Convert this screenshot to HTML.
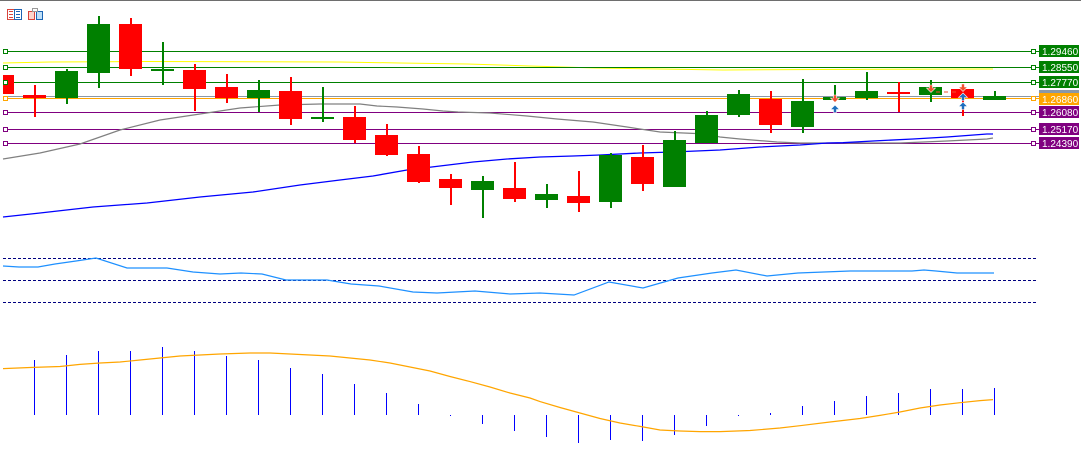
<!DOCTYPE html>
<html><head><meta charset="utf-8"><style>
html,body{margin:0;padding:0;background:#fff;}
svg{display:block;}
text{font-family:"Liberation Sans",sans-serif;font-size:10px;fill:#fff;}
</style></head><body>
<svg width="1081" height="467" viewBox="0 0 1081 467" xmlns="http://www.w3.org/2000/svg" shape-rendering="crispEdges">
<rect x="0" y="0" width="1081" height="467" fill="#fff"/>
<rect x="0" y="0" width="1081" height="1" fill="#6e6e6e"/>
<!-- icons -->
<g>
<rect x="7.5" y="9.5" width="14" height="10" fill="#fff" stroke="#d9443c"/>
<rect x="14.5" y="9.5" width="7" height="10" fill="#fff" stroke="#1c64b4"/>
<rect x="9" y="11" width="4" height="1" fill="#d9443c"/><rect x="9" y="14" width="4" height="1" fill="#d9443c"/><rect x="9" y="17" width="4" height="1" fill="#d9443c"/>
<rect x="16" y="11" width="4" height="1" fill="#1c64b4"/><rect x="16" y="14" width="4" height="1" fill="#1c64b4"/><rect x="16" y="17" width="4" height="1" fill="#1c64b4"/>
<rect x="28.5" y="11.5" width="6" height="8" fill="#fcd4cc" stroke="#d9443c"/>
<rect x="36.5" y="11.5" width="6" height="8" fill="#bfe0f8" stroke="#1c64b4"/>
<rect x="32.5" y="8.5" width="5" height="3" fill="#fff" stroke="#999"/>
</g>
<!-- yellow line -->
<polyline fill="none" stroke="#ffff00" stroke-width="1" points="3,63 50,62 145,61.5 340,62 400,63 467,64 500,65 530,66 563,67 595,68 660,69 723,70 820,69.5 993,69" shape-rendering="auto"/>
<!-- horizontal level lines -->
<g stroke-width="1">
<line x1="3" y1="51.5" x2="1039" y2="51.5" stroke="#008000"/>
<line x1="3" y1="67.5" x2="1039" y2="67.5" stroke="#008000"/>
<line x1="3" y1="82.5" x2="1039" y2="82.5" stroke="#008000"/>
<line x1="3" y1="96.5" x2="1039" y2="96.5" stroke="#8a98a8"/>
<line x1="3" y1="98.5" x2="1039" y2="98.5" stroke="#ffa500"/>
<line x1="3" y1="112.5" x2="1039" y2="112.5" stroke="#800080"/>
<line x1="3" y1="129.5" x2="1039" y2="129.5" stroke="#800080"/>
<line x1="3" y1="143.5" x2="1039" y2="143.5" stroke="#800080"/>
</g>
<!-- moving averages -->
<polyline fill="none" stroke="#808080" stroke-width="1.2" shape-rendering="auto" points="3,159 40,153 80,144 120,130 160,120 200,114 240,108 280,105 320,104 360,104 377,106 397,107 423,109 443,111 458,112 490,113 527,116 557,119 593,122 627,127 660,132 707,134 720,137 740,139 777,142 800,143 900,143 947,141 987,139 993,138"/>
<polyline fill="none" stroke="#0000ff" stroke-width="1.3" shape-rendering="auto" points="3,217 40,213 93,207 147,203 200,197 253,192 300,185 340,180 373,176 407,170 440,166 473,162 507,159 540,157 573,156 600,155 640,153 673,152 720,150 760,147 800,145 827,143 843,142.7 873,141 913,139 947,137 987,134 993,134"/>
<!-- candles -->
<g id="candles">
<rect x="3" y="75" width="11" height="19" fill="#ff0000"/>
<rect x="34" y="85" width="2" height="32" fill="#ff0000"/><rect x="23" y="95" width="23" height="3" fill="#ff0000"/>
<rect x="66" y="69" width="2" height="35" fill="#008000"/><rect x="55" y="71" width="23" height="27" fill="#008000"/>
<rect x="98" y="16" width="2" height="72" fill="#008000"/><rect x="87" y="24" width="23" height="49" fill="#008000"/>
<rect x="130" y="18" width="2" height="58" fill="#ff0000"/><rect x="119" y="24" width="23" height="45" fill="#ff0000"/>
<rect x="162" y="42" width="2" height="43" fill="#008000"/><rect x="151" y="69" width="23" height="2" fill="#008000"/>
<rect x="194" y="64" width="2" height="47" fill="#ff0000"/><rect x="183" y="70" width="23" height="19" fill="#ff0000"/>
<rect x="226" y="74" width="2" height="29" fill="#ff0000"/><rect x="215" y="87" width="23" height="11" fill="#ff0000"/>
<rect x="258" y="80" width="2" height="32" fill="#008000"/><rect x="247" y="90" width="23" height="8" fill="#008000"/>
<rect x="290" y="77" width="2" height="48" fill="#ff0000"/><rect x="279" y="91" width="23" height="28" fill="#ff0000"/>
<rect x="322" y="87" width="2" height="35" fill="#008000"/><rect x="311" y="117" width="23" height="2" fill="#008000"/>
<rect x="354" y="106" width="2" height="37" fill="#ff0000"/><rect x="343" y="117" width="23" height="23" fill="#ff0000"/>
<rect x="386" y="124" width="2" height="32" fill="#ff0000"/><rect x="375" y="135" width="23" height="20" fill="#ff0000"/>
<rect x="418" y="146" width="2" height="37" fill="#ff0000"/><rect x="407" y="154" width="23" height="28" fill="#ff0000"/>
<rect x="450" y="174" width="2" height="31" fill="#ff0000"/><rect x="439" y="179" width="23" height="9" fill="#ff0000"/>
<rect x="482" y="176" width="2" height="42" fill="#008000"/><rect x="471" y="181" width="23" height="9" fill="#008000"/>
<rect x="514" y="162" width="2" height="40" fill="#ff0000"/><rect x="503" y="188" width="23" height="11" fill="#ff0000"/>
<rect x="546" y="184" width="2" height="24" fill="#008000"/><rect x="535" y="194" width="23" height="6" fill="#008000"/>
<rect x="578" y="171" width="2" height="41" fill="#ff0000"/><rect x="567" y="196" width="23" height="7" fill="#ff0000"/>
<rect x="610" y="153" width="2" height="55" fill="#008000"/><rect x="599" y="155" width="23" height="47" fill="#008000"/>
<rect x="642" y="145" width="2" height="46" fill="#ff0000"/><rect x="631" y="157" width="23" height="27" fill="#ff0000"/>
<rect x="674" y="131" width="2" height="56" fill="#008000"/><rect x="663" y="140" width="23" height="47" fill="#008000"/>
<rect x="706" y="111" width="2" height="32" fill="#008000"/><rect x="695" y="115" width="23" height="28" fill="#008000"/>
<rect x="738" y="90" width="2" height="27" fill="#008000"/><rect x="727" y="94" width="23" height="21" fill="#008000"/>
<rect x="770" y="91" width="2" height="42" fill="#ff0000"/><rect x="759" y="99" width="23" height="26" fill="#ff0000"/>
<rect x="802" y="79" width="2" height="54" fill="#008000"/><rect x="791" y="101" width="23" height="26" fill="#008000"/>
<rect x="834" y="85" width="2" height="15" fill="#008000"/><rect x="823" y="97" width="23" height="3" fill="#008000"/>
<rect x="866" y="72" width="2" height="28" fill="#008000"/><rect x="855" y="91" width="23" height="7" fill="#008000"/>
<rect x="898" y="82" width="2" height="30" fill="#ff0000"/><rect x="887" y="92" width="23" height="2" fill="#ff0000"/>
<rect x="930" y="80" width="2" height="22" fill="#008000"/><rect x="919" y="87" width="23" height="8" fill="#008000"/>
<rect x="962" y="84" width="2" height="32" fill="#ff0000"/><rect x="951" y="89" width="23" height="9" fill="#ff0000"/>
<rect x="994" y="91" width="2" height="9" fill="#008000"/><rect x="983" y="96" width="23" height="4" fill="#008000"/>
</g>
<!-- dashed red line between signals -->
<line x1="936" y1="92" x2="958" y2="92" stroke="#f05030" stroke-width="1" stroke-dasharray="4,4"/>
<!-- arrows -->
<g fill="#f0502e" stroke="#fff" stroke-width="0.6" shape-rendering="auto">
<path d="M833.5,95 h3 v3 h3 l-4.5,4.5 l-4.5,-4.5 h3 z"/>
<path d="M929.5,85 h3 v3 h3 l-4.5,4.5 l-4.5,-4.5 h3 z"/>
<path d="M961.5,84 h3 v3 h3 l-4.5,4.5 l-4.5,-4.5 h3 z"/>
</g>
<g fill="#1e6ebe" stroke="#fff" stroke-width="0.6" shape-rendering="auto">
<path d="M835,105 l4.5,4.5 h-3 v3 h-3 v-3 h-3 z"/>
<path d="M963,93 l4.5,4.5 h-3 v3 h-3 v-3 h-3 z"/>
<path d="M963,102 l4.5,4.5 h-3 v3 h-3 v-3 h-3 z"/>
</g>
<!-- left squares -->
<g fill="#fff" stroke-width="1">
<rect x="3.5" y="49.5" width="4" height="4" stroke="#008000"/>
<rect x="3.5" y="65.5" width="4" height="4" stroke="#008000"/>
<rect x="3.5" y="80.5" width="4" height="4" stroke="#008000"/>
<rect x="3.5" y="96.5" width="4" height="4" stroke="#ffa500"/>
<rect x="3.5" y="110.5" width="4" height="4" stroke="#800080"/>
<rect x="3.5" y="127.5" width="4" height="4" stroke="#800080"/>
<rect x="3.5" y="141.5" width="4" height="4" stroke="#800080"/>
</g>
<!-- right squares -->
<g fill="#fff" stroke-width="1">
<rect x="1031.5" y="49.5" width="4" height="4" stroke="#008000"/>
<rect x="1031.5" y="65.5" width="4" height="4" stroke="#008000"/>
<rect x="1031.5" y="80.5" width="4" height="4" stroke="#008000"/>
<rect x="1031.5" y="96.5" width="4" height="4" stroke="#ffa500"/>
<rect x="1031.5" y="110.5" width="4" height="4" stroke="#800080"/>
<rect x="1031.5" y="127.5" width="4" height="4" stroke="#800080"/>
<rect x="1031.5" y="141.5" width="4" height="4" stroke="#800080"/>
</g>
<!-- price labels -->
<rect x="1039" y="45" width="40" height="12" fill="#008000"/><text x="1042" y="55">1.29460</text>
<rect x="1039" y="61" width="40" height="12" fill="#008000"/><text x="1042" y="71">1.28550</text>
<rect x="1039" y="76" width="40" height="12" fill="#008000"/><text x="1042" y="86">1.27770</text>
<rect x="1039" y="90" width="40" height="12" fill="#8a98a8"/>
<rect x="1039" y="93" width="40" height="12" fill="#ffa500"/><text x="1042" y="103">1.26860</text>
<rect x="1039" y="106" width="40" height="12" fill="#800080"/><text x="1042" y="116">1.26080</text>
<rect x="1039" y="123" width="40" height="12" fill="#800080"/><text x="1042" y="133">1.25170</text>
<rect x="1039" y="137" width="40" height="12" fill="#800080"/><text x="1042" y="147">1.24390</text>
<!-- RSI panel -->
<g stroke="#000080" stroke-width="1" stroke-dasharray="3,2">
<line x1="3" y1="258.5" x2="1036" y2="258.5"/>
<line x1="3" y1="280.5" x2="1036" y2="280.5"/>
<line x1="3" y1="302.5" x2="1036" y2="302.5"/>
</g>
<polyline fill="none" stroke="#1e90ff" stroke-width="1.2" shape-rendering="auto" points="3,266 19,267 38,267 55,264 76,261 96,258 127,268 167,268 193,272 220,274 241,273 262,274 286,280 327,280 351,284 379,286 413,292 437,293 475,291 510,294 540,293 574,295 609,282 643,288 678,278 712,273 736,270 767,276 798,273 850,271 912,271 924,270 936,271 957,273 994,273"/>
<!-- MACD panel -->
<g fill="#0000ff">
<rect x="34" y="360" width="1.2" height="55"/>
<rect x="66" y="355" width="1.2" height="60"/>
<rect x="98" y="351" width="1.2" height="64"/>
<rect x="130" y="351" width="1.2" height="64"/>
<rect x="162" y="347" width="1.2" height="68"/>
<rect x="194" y="351" width="1.2" height="64"/>
<rect x="226" y="356" width="1.2" height="59"/>
<rect x="258" y="360" width="1.2" height="55"/>
<rect x="290" y="368" width="1.2" height="47"/>
<rect x="322" y="374" width="1.2" height="41"/>
<rect x="354" y="384" width="1.2" height="31"/>
<rect x="386" y="393" width="1.2" height="22"/>
<rect x="418" y="404" width="1.2" height="11"/>
<rect x="450" y="415" width="1.2" height="1"/>
<rect x="482" y="415" width="1.2" height="9"/>
<rect x="514" y="415" width="1.2" height="16"/>
<rect x="546" y="415" width="1.2" height="22"/>
<rect x="578" y="415" width="1.2" height="28"/>
<rect x="610" y="415" width="1.2" height="25"/>
<rect x="642" y="415" width="1.2" height="26"/>
<rect x="674" y="415" width="1.2" height="20"/>
<rect x="706" y="415" width="1.2" height="11"/>
<rect x="738" y="415" width="1.2" height="1"/>
<rect x="770" y="413" width="1.2" height="2"/>
<rect x="802" y="406" width="1.2" height="9"/>
<rect x="834" y="401" width="1.2" height="14"/>
<rect x="866" y="396" width="1.2" height="19"/>
<rect x="898" y="393" width="1.2" height="22"/>
<rect x="930" y="389" width="1.2" height="26"/>
<rect x="962" y="389" width="1.2" height="26"/>
<rect x="994" y="388" width="1.2" height="27"/>
</g>
<polyline fill="none" stroke="#ffa500" stroke-width="1.2" shape-rendering="auto" points="3,368.6 30,367.5 60,366.5 80,364.4 100,363 120,362 140,360 160,358 180,356 200,355 220,354 250,353 270,353 290,354 310,355 330,356 350,358 370,360 390,363 410,367 430,371 450,376.5 470,381.6 490,387 510,393 530,398 540,401.6 560,407.5 580,413 600,418.5 620,423 640,426.4 660,430 680,431 700,431.6 720,431.6 750,430.5 780,428 800,425.7 830,422 860,418.5 880,415.4 900,412 920,408 940,405 960,402.7 980,400.6 993,399.6"/>
</svg>
</body></html>
